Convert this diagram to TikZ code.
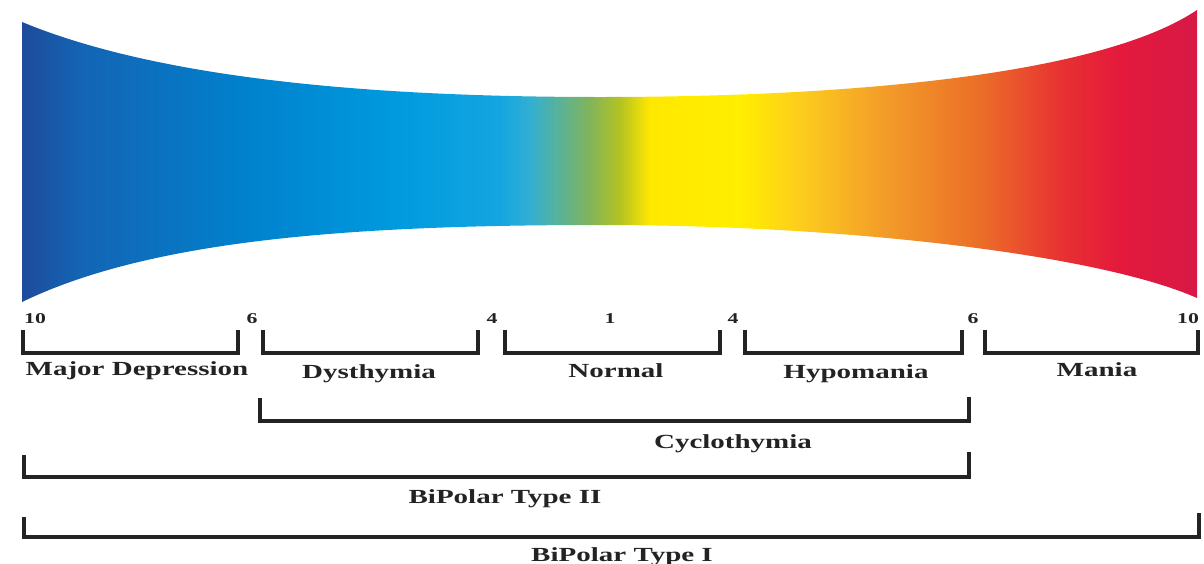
\documentclass[tikz,border=0pt]{standalone}
\usepackage{fontspec}
\setmainfont{Liberation Serif}
\usepackage{graphicx}
\definecolor{s01}{RGB}{30,75,155}
\definecolor{s02}{RGB}{20,100,180}
\definecolor{s03}{RGB}{0,130,205}
\definecolor{s04}{RGB}{0,155,222}
\definecolor{s05}{RGB}{20,165,225}
\definecolor{s06}{RGB}{50,175,210}
\definecolor{s07}{RGB}{90,178,150}
\definecolor{s08}{RGB}{130,180,90}
\definecolor{s09}{RGB}{180,195,35}
\definecolor{s10}{RGB}{255,232,0}
\definecolor{s11}{RGB}{255,238,0}
\definecolor{s12}{RGB}{253,205,30}
\definecolor{s13}{RGB}{243,158,40}
\definecolor{s14}{RGB}{235,110,40}
\definecolor{s15}{RGB}{232,50,50}
\definecolor{s16}{RGB}{228,25,60}
\definecolor{s17}{RGB}{215,25,70}
\definecolor{ink}{RGB}{35,35,35}
\pgfdeclarehorizontalshading{spectrum}{100bp}{color(0bp)=(s01); color(25bp)=(s01);
 color(27.47bp)=(s02); color(34.70bp)=(s03); color(41.08bp)=(s04); color(45.34bp)=(s05);
 color(46.62bp)=(s06); color(47.89bp)=(s07); color(49.17bp)=(s08); color(50.45bp)=(s09);
 color(51.73bp)=(s10); color(55.55bp)=(s11); color(58.10bp)=(s12); color(61.51bp)=(s13);
 color(65.76bp)=(s14); color(69.17bp)=(s15); color(71.72bp)=(s16); color(75bp)=(s17);
 color(100bp)=(s17)}
\newcommand{\wide}[1]{\scalebox{1.45}[1]{#1}}
\tikzset{
  brk/.style={draw=ink, line width=3.3pt, line join=miter},
  lab/.style={font=\fontsize{20}{24}\selectfont\bfseries, text=ink, inner sep=0pt, anchor=base},
  num/.style={font=\fontsize{15}{18}\selectfont\bfseries, text=ink, inner sep=0pt, anchor=base}
}
\begin{document}
\begin{tikzpicture}[x=1pt,y=-1pt]
\useasboundingbox (0,0) rectangle (1204,563);
% spectrum band
\shade[shading=spectrum] (22,22) .. controls (150,75) and (350,97) .. (600,97)
  .. controls (850,97) and (1100,75) .. (1197,10) -- (1197,298)
  .. controls (1100,255) and (850,225) .. (600,225)
  .. controls (350,225) and (150,240) .. (22,302) -- cycle;
% scale numbers
\node[num] (n10l) at (35,323) {\wide{10}};
\node[num] (n6l)  at (252,323) {\wide{6}};
\node[num] (n4l)  at (492,323) {\wide{4}};
\node[num] (n1)   at (610,323) {\wide{1}};
\node[num] (n4r)  at (733,323) {\wide{4}};
\node[num] (n6r)  at (973,323) {\wide{6}};
\node[num] (n10r) at (1188,323) {\wide{10}};
% first row brackets
\draw[brk] (23,330) -- (23,353) -- (238,353) -- (238,330);
\draw[brk] (263,330) -- (263,353) -- (478,353) -- (478,330);
\draw[brk] (505,330) -- (505,353) -- (720,353) -- (720,330);
\draw[brk] (745,330) -- (745,353) -- (962,353) -- (962,330);
\draw[brk] (985,330) -- (985,353) -- (1198,353) -- (1198,330);
% first row labels
\node[lab] (md)   at (137,375) {\wide{Major Depression}};
\node[lab] (dys)  at (369,378) {\wide{Dysthymia}};
\node[lab] (norm) at (616,377) {\wide{Normal}};
\node[lab] (hypo) at (856,378) {\wide{Hypomania}};
\node[lab] (man)  at (1097,376) {\wide{Mania}};
% cyclothymia
\draw[brk] (260,398) -- (260,421) -- (969,421) -- (969,397);
\node[lab] (cyc) at (733,448) {\wide{Cyclothymia}};
% bipolar II
\draw[brk] (24,455) -- (24,477) -- (969,477) -- (969,452);
\node[lab] (bp2) at (505,503) {\wide{BiPolar Type II}};
% bipolar I
\draw[brk] (24,517) -- (24,537) -- (1199,537) -- (1199,513);
\node[lab] (bp1) at (622,561) {\wide{BiPolar Type I}};
\end{tikzpicture}
\end{document}
